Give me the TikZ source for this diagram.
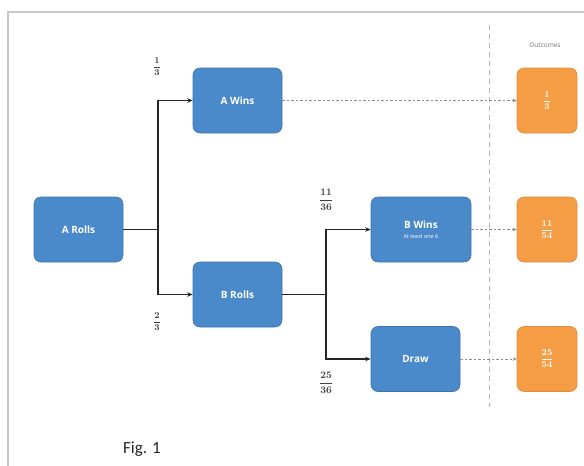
\documentclass[tikz,border=0pt]{standalone}
\usepackage{fontspec}
\usepackage{amsmath}
\setmainfont{Open Sans}
\newfontfamily\figfont{Carlito}
\usetikzlibrary{arrows.meta}
\definecolor{boxblue}{HTML}{4A89CA}
\definecolor{boxorange}{HTML}{F49D45}
\definecolor{framegray}{HTML}{C8C8C8}
\definecolor{dashgray}{HTML}{8C8C8C}
\begin{document}
\begin{tikzpicture}[x=1pt,y=-1pt,
  bluebox/.style={draw=boxblue!85!black, line width=0.6pt, fill=boxblue, rounded corners=7pt,
    minimum width=89pt, minimum height=65pt, inner sep=0pt, text=white,
    font=\fontsize{10}{11}\selectfont\bfseries, align=center},
  orangebox/.style={draw=boxorange!90!black, line width=0.6pt, fill=boxorange, rounded corners=7pt,
    minimum width=60pt, minimum height=65pt, inner sep=0pt, text=white,
    font=\fontsize{9}{10}\selectfont\bfseries},
  solidarrow/.style={draw=black!85, line width=1.3pt, -{Stealth[length=5.5pt,width=4.5pt]}},
  dasharrow/.style={draw=dashgray, line width=0.9pt, dash pattern=on 2.5pt off 2pt, -{Stealth[length=4pt,width=3.5pt]}},
  problabel/.style={font=\fontsize{9}{10}\selectfont, text=black!75},
]
\useasboundingbox (0,0) rectangle (584,466);
\fill[white] (0,0) rectangle (584,466);
% frame
\draw[framegray, line width=2pt] (8,466) -- (8,12) -- (584,12);
% outcomes separator
\coordinate (sepTop) at (489,25);
\coordinate (sepBot) at (489,407);
\draw[framegray!90!black, line width=0.9pt, dash pattern=on 5pt off 4pt] (sepTop) -- (sepBot);
\node[font=\fontsize{6.5}{7}\selectfont, text=black!55] (outcomes) at (545,45) {Outcomes};
% nodes
\node[bluebox] (arolls) at (78.5,229.5) {A Rolls};
\node[bluebox] (awins) at (237.5,100.5) {A Wins};
\node[bluebox] (brolls) at (237.5,294.5) {B Rolls};
\node[bluebox, minimum width=100pt] (bwins) at (421,229.5) {B Wins\\[-1pt]{\fontsize{5.5}{6}\selectfont\mdseries At least one 6}};
\node[bluebox] (draw) at (415.5,359) {Draw};
\node[orangebox] (o1) at (547,100.5) {$\boldsymbol{\dfrac{1}{3}}$};
\node[orangebox] (o2) at (547,229.5) {$\boldsymbol{\dfrac{11}{54}}$};
\node[orangebox] (o3) at (547,359) {$\boldsymbol{\dfrac{25}{54}}$};
% branch points
\coordinate (j1) at (158,229.5);
\coordinate (j2) at (326,294.5);
\draw[black!85, line width=1.3pt] (arolls.east) -- (j1);
\draw[solidarrow] (j1) |- (awins.west);
\draw[solidarrow] (j1) |- (brolls.west);
\draw[black!85, line width=1.3pt] (brolls.east) -- (j2);
\draw[solidarrow] (j2) |- (bwins.west);
\draw[solidarrow] (j2) |- (draw.west);
% dashed arrows
\draw[dasharrow] (awins.east) -- (o1.west);
\draw[dasharrow] (bwins.east) -- (o2.west);
\draw[dasharrow] (draw.east) -- (o3.west);
% probability labels
\node[problabel] (p1) at (157,67) {$\boldsymbol{\dfrac{1}{3}}$};
\node[problabel] (p2) at (157,322) {$\boldsymbol{\dfrac{2}{3}}$};
\node[problabel, font=\fontsize{10}{12}\selectfont] (p3) at (326,200) {$\boldsymbol{\dfrac{11}{36}}$};
\node[problabel, font=\fontsize{10}{12}\selectfont] (p4) at (326,383) {$\boldsymbol{\dfrac{25}{36}}$};
% caption
\node[font=\figfont\fontsize{17}{19}\selectfont, text=black!85] (fig) at (142,449) {Fig. 1};
\end{tikzpicture}
\end{document}
